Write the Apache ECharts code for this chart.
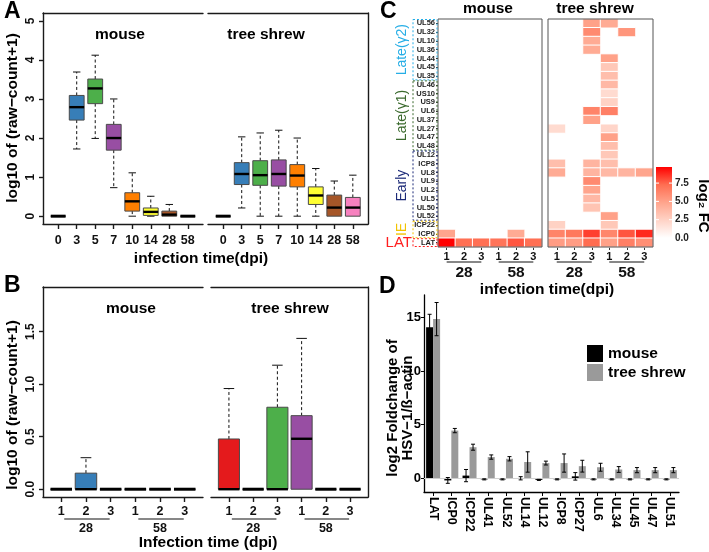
<!DOCTYPE html>
<html><head><meta charset="utf-8">
<script src="https://cdn.jsdelivr.net/npm/echarts@6/dist/echarts.min.js"></script>
<style>html,body{margin:0;padding:0;background:#fff}#c{width:709px;height:552px}</style>
</head><body><div id="c"></div>
<script>
// ---------------- DATA ----------------
// Panel A: five-number summaries [low whisker, Q1, median, Q3, high whisker]
const dpiA = ['0','3','5','7','10','14','28','58'];
const mouseA = [
  [0,0,0,0,0],
  [1.72,2.46,2.79,3.09,3.69],
  [1.99,2.88,3.27,3.51,4.12],
  [0.73,1.69,2.00,2.35,3.00],
  [0,0.13,0.38,0.60,1.11],
  [0,0.02,0.11,0.21,0.51],
  [0,0,0.04,0.13,0.30],
  [0,0,0,0,0]
];
const shrewA = [
  [0,0,0,0,0],
  [0.21,0.81,1.08,1.37,2.03],
  [0,0.79,1.05,1.42,2.13],
  [0,0.77,1.08,1.44,2.20],
  [0,0.75,1.04,1.32,2.00],
  [0,0.30,0.53,0.75,1.22],
  [0,0,0.22,0.54,0.90],
  [0,0,0.22,0.48,1.05]
];
// Panel B
const repB = ['1','2','3','1','2','3'];
const groupsB = ['28','58'];
const mouseB = [
  [0,0,0,0,0],
  [0,0,0,0.153,0.30],
  [0,0,0,0,0],
  [0,0,0,0,0],
  [0,0,0,0,0],
  [0,0,0,0,0]
];
const shrewB = [
  [0,0,0,0.478,0.958],
  [0,0,0,0,0],
  [0,0,0,0.78,1.18],
  [0,0,0.48,0.70,1.435],
  [0,0,0,0,0],
  [0,0,0,0,0]
];
// Panel C (rows top -> bottom; columns 28-1,28-2,28-3,58-1,58-2,58-3), log2 FC
const genesC = ['UL56','UL32','UL10','UL36','UL44','UL45','UL35','UL46','US10','US9','UL6','UL37','UL27','UL47','UL48','UL12','ICP8','UL8','UL9','UL2','UL5','UL50','UL52','ICP22','ICP0','LAT'];
const colsC = ['28-1','28-2','28-3','58-1','58-2','58-3'];
const groupsC = ['28','58'];
const mouseC = [
  [0,0,0,0,0,0],[0,0,0,0,0,0],[0,0,0,0,0,0],[0,0,0,0,0,0],[0,0,0,0,0,0],
  [0,0,0,0,0,0],[0,0,0,0,0,0],[0,0,0,0,0,0],[0,0,0,0,0,0],[0,0,0,0,0,0],
  [0,0,0,0,0,0],[0,0,0,0,0,0],[0,0,0,0,0,0],[0,0,0,0,0,0],[0,0,0,0,0,0],
  [0,0,0,0,0,0],[0,0,0,0,0,0],[0,0,0,0,0,0],[0,0,0,0,0,0],[0,0,0,0,0,0],
  [0,0,0,0,0,0],[0,0,0,0,0,0],[0,0,0,0,0,0],[0,0,0,0,0,0],
  [4.8,0,0,0,4.5,0],
  [9.7,7.2,7.2,7.0,7.8,7.2]
];
const shrewC = [
  [0,0,5.0,4.5,0,0],
  [0,0,6.0,0,5.5,0],
  [0,0,4.5,0,0,0],
  [0,0,4.5,0,0,0],
  [0,0,0,5.0,0,0],
  [0,0,0,3.0,0,0],
  [0,0,0,3.5,0,0],
  [0,0,0,3.8,0,0],
  [0,0,0,2.0,0,0],
  [0,0,0,2.5,0,0],
  [0,0,6.3,6.5,0,0],
  [0,0,5.0,0,0,0],
  [2.0,0,0,2.3,0,0],
  [0,0,0,5.0,0,0],
  [0,0,0,3.5,0,0],
  [0,0,0,3.0,0,0],
  [3.5,0,4.0,3.5,0,0],
  [4.5,0,4.0,3.8,4.0,4.8],
  [0,0,6.0,0,0,0],
  [0,0,4.8,0,0,0],
  [0,0,3.8,0,0,0],
  [0,0,3.2,0,0,0],
  [0,0,0,5.0,0,0],
  [2.5,0,0,3.0,0,0],
  [6.3,6.8,8.3,6.2,7.8,8.8],
  [5.2,5.2,7.3,5.0,6.5,5.8]
];
const geneGroupNames = ['Late(γ2)','Late(γ1)','Early','IE','LAT'];
const geneGroupFrom = [0,7,15,23,25];
const geneGroupTo   = [6,14,22,24,25];
const fcTicks = [0,2.5,5,7.5];
const fcMax = 9.7;
// Panel D
const genesD = ['LAT','ICP0','ICP22','UL41','UL52','UL14','UL12','ICP8','ICP27','UL6','UL34','UL45','UL47','UL51'];
const mouseD = [14.1,-0.2,0.25,-0.1,-0.1,0.0,-0.15,-0.1,0.18,-0.1,-0.1,-0.1,-0.1,-0.1];
const mouseErr = [1.2,0.27,0.57,0.05,0.05,0.15,0.05,0.05,0.35,0.05,0.05,0.05,0.05,0.05];
const shrewD = [14.85,4.45,2.9,1.98,1.82,1.52,1.42,1.42,1.13,1.03,0.82,0.76,0.76,0.76];
const shrewErr = [1.55,0.2,0.28,0.2,0.2,0.95,0.18,0.85,0.55,0.37,0.27,0.24,0.24,0.24];

// ---------------- STYLE ----------------
const FONT = '"Liberation Sans", Arial, Helvetica, sans-serif';
const set1 = ['#E41A1C','#377EB8','#4DAF4A','#984EA3','#FF7F00','#FFFF33','#A65628','#F781BF'];
const groupColors = ['#26AEE6','#3B6A2E','#1C2A78','#F2C300','#FF1E1E'];
const heatStops = ['#FFFFFF','#FFD3C6','#FFA48C','#FF6E52','#FF0000'];
const INK = '#1a1a1a';

const axLine = {show:true, onZero:false, lineStyle:{color:INK, width:1.4}};
const noAx = {show:false};
const txt = (size, extra) => Object.assign({fontFamily:FONT, fontWeight:'bold', fontSize:size, color:'#111'}, extra||{});

function boxRender(stats, colors, boxW) {
  return function (params, api) {
    const i = params.dataIndex;
    const x = api.value(0);
    const s = stats[i];
    const cx = api.coord([x, 0])[0];
    const hw = api.size([boxW, 0])[0] / 2;
    const Y = v => api.coord([x, v])[1];
    const yLo = Y(s[0]), yQ1 = Y(s[1]), yMed = Y(s[2]), yQ3 = Y(s[3]), yHi = Y(s[4]);
    const dash = {stroke:'#111', lineWidth:1, lineDash:[3,2.5]};
    const solid = {stroke:'#111', lineWidth:1};
    const ch = [];
    if (s[4] > s[3]) {
      ch.push({type:'line', shape:{x1:cx,y1:yQ3,x2:cx,y2:yHi}, style:dash});
      ch.push({type:'line', shape:{x1:cx-hw/2,y1:yHi,x2:cx+hw/2,y2:yHi}, style:solid});
    }
    if (s[0] < s[1]) {
      ch.push({type:'line', shape:{x1:cx,y1:yQ1,x2:cx,y2:yLo}, style:dash});
      ch.push({type:'line', shape:{x1:cx-hw/2,y1:yLo,x2:cx+hw/2,y2:yLo}, style:solid});
    }
    ch.push({type:'rect', shape:{x:cx-hw, y:yQ3, width:2*hw, height:yQ1-yQ3},
             style:{fill:colors[i], stroke:'#4a4a4a', lineWidth:1}});
    const flat = s[3] === s[1];
    ch.push({type:'line', shape:{x1:cx-hw,y1:yMed,x2:cx+hw,y2:yMed},
             style:{stroke:'#000', lineWidth: flat ? 3 : 2.4}});
    return {type:'group', children:ch};
  };
}

function groupUnderline(names, yMin, x0, x1, dy, dyText, size) {
  return function (params, api) {
    const i = params.dataIndex;
    const a = 3*i + 1, b = 3*i + 3;
    const xa = api.coord([a + x0, yMin])[0], xb = api.coord([b + x1, yMin])[0];
    const yb = api.coord([a, yMin])[1];
    return {type:'group', children:[
      {type:'line', shape:{x1:xa,y1:yb+dy,x2:xb,y2:yb+dy}, style:{stroke:'#111', lineWidth:1.2}},
      {type:'text', x:(api.coord([a+1, yMin])[0]), y:yb+dyText,
       style:{text:names[i], align:'center', verticalAlign:'middle', fontFamily:FONT, fontWeight:'bold', fontSize:size, fill:'#111'}}
    ]};
  };
}

function catUnderline(names, dy, dyText, size) {
  return function (params, api) {
    const i = params.dataIndex;
    const a = 3*i, b = 3*i + 2;
    const by = api.size([1,1])[1];
    const xa = api.coord([a, 0])[0], xb = api.coord([b, 0])[0], xm = api.coord([a+1, 0])[0];
    const yb = api.coord([a, 0])[1] + by/2;
    return {type:'group', children:[
      {type:'line', shape:{x1:xa,y1:yb+dy,x2:xb,y2:yb+dy}, style:{stroke:'#111', lineWidth:1.2}},
      {type:'text', x:xm, y:yb+dyText,
       style:{text:names[i], align:'center', verticalAlign:'middle', fontFamily:FONT, fontWeight:'bold', fontSize:size, fill:'#111'}}
    ]};
  };
}

function frameRender(params, api) {
  const b = api.size([1,1]);
  const left = api.coord([0,0])[0] - b[0]/2;
  const right = api.coord([colsC.length-1,0])[0] + b[0]/2;
  const bottom = api.coord([0,0])[1] + b[1]/2;
  const top = api.coord([0,genesC.length-1])[1] - b[1]/2;
  return {type:'rect', shape:{x:left, y:top, width:right-left, height:bottom-top},
          style:{fill:'none', stroke:'#555', lineWidth:1}};
}

function geneGroupRender(params, api) {
  const i = params.dataIndex;
  const n = genesC.length - 1;
  const b = api.size([1,1]);
  const left = api.coord([0,0])[0] - b[0]/2;
  const yTop = api.coord([0, n - geneGroupFrom[i]])[1] - b[1]/2;
  const yBot = api.coord([0, n - geneGroupTo[i]])[1] + b[1]/2;
  const mid = (yTop + yBot)/2;
  const col = groupColors[i];
  const ch = [{type:'rect', shape:{x:left-25, y:yTop+0.5, width:24, height:yBot-yTop-1},
               style:{fill:'none', stroke:col, lineWidth:1, lineDash:[2,2]}}];
  if (geneGroupNames[i] === 'LAT') {
    ch.push({type:'text', x:left-26, y:mid, style:{text:geneGroupNames[i], align:'right', verticalAlign:'middle',
      fontFamily:FONT, fontSize:15, fill:col}});
  } else {
    ch.push({type:'text', x:left-36, y:mid, rotation:Math.PI/2, style:{text:geneGroupNames[i], align:'center', verticalAlign:'middle',
      fontFamily:FONT, fontSize:14, fill:col}});
  }
  return {type:'group', children:ch};
}

function colorbarRender(params, api) {
  const p0 = api.coord([0, 0]), p1 = api.coord([1, fcMax]);
  const stops = heatStops.map((c, k) => ({offset:k/(heatStops.length-1), color:c}));
  const ch = [{type:'rect', shape:{x:p0[0], y:p1[1], width:p1[0]-p0[0], height:p0[1]-p1[1]},
    style:{fill:new echarts.graphic.LinearGradient(0,1,0,0,stops)}}];
  fcTicks.forEach(t => {
    const y = api.coord([0, t])[1];
    ch.push({type:'line', shape:{x1:p0[0],y1:y,x2:p0[0]+3,y2:y}, style:{stroke:'#fff', lineWidth:1}});
    ch.push({type:'line', shape:{x1:p1[0]-3,y1:y,x2:p1[0],y2:y}, style:{stroke:'#fff', lineWidth:1}});
  });
  return {type:'group', children:ch};
}

function errRender(vals, errs, side, barW) {
  return function (params, api) {
    const i = params.dataIndex;
    const m = vals[i], e = errs[i];
    const x = api.coord([i, m])[0] + side*barW/2;
    const yT = api.coord([i, m+e])[1], yB = api.coord([i, m-e])[1];
    const st = {stroke:'#000', lineWidth:1};
    return {type:'group', children:[
      {type:'line', shape:{x1:x,y1:yT,x2:x,y2:yB}, style:st},
      {type:'line', shape:{x1:x-2,y1:yT,x2:x+2,y2:yT}, style:st},
      {type:'line', shape:{x1:x-2,y1:yB,x2:x+2,y2:yB}, style:st}
    ]};
  };
}

const heatData = m => {
  const out = [];
  const n = genesC.length - 1;
  m.forEach((row, r) => row.forEach((v, c) => { if (v > 0) out.push([c, n - r, v]); }));
  return out;
};

const ticks8 = [1,2,3,4,5,6,7,8];
const ticks6 = [1,2,3,4,5,6];

function boxXAxis(grid, n, labels, size, margin) {
  const vals = n === 8 ? ticks8 : ticks6;
  const pad = n * 0.04 + 0.5;
  return [
    {gridIndex:grid, type:'value', position:'bottom', min:+(1-pad).toFixed(2), max:+(n+pad).toFixed(2),
     axisLine:axLine, splitLine:noAx,
     axisTick:{show:true, customValues:vals, length:5, lineStyle:{color:INK, width:1.4}},
     axisLabel:Object.assign(txt(size), {show:true, customValues:vals, margin:margin, formatter:v => labels[Math.round(v)-1]})},
    {gridIndex:grid, type:'value', position:'top', min:+(1-pad).toFixed(2), max:+(n+pad).toFixed(2),
     axisLine:axLine, splitLine:noAx, axisTick:noAx, axisLabel:noAx}
  ];
}

const gridOpts = {containLabel:false, outerBoundsMode:'none'};
const G = (l, t, w, h, extra) => Object.assign({left:l, top:t, width:w, height:h}, gridOpts, extra||{});

const option = {
  animation:false,
  backgroundColor:'#fff',
  grid:[
    G(43,13,160,211),        // 0 A mouse
    G(208,13,160,211),       // 1 A tree shrew
    G(43,287,160,210),       // 2 B mouse
    G(211,287,157,210),      // 3 B tree shrew
    G(438,19,104,228),       // 4 C mouse
    G(548,19,105,228),       // 5 C tree shrew
    G(656,167,16,71),        // 6 colorbar
    G(424,295,255,197)       // 7 D
  ],
  xAxis:[
    ...boxXAxis(0, 8, dpiA, 12.5, 10),   // 0,1
    ...boxXAxis(1, 8, dpiA, 12.5, 10),   // 2,3
    ...boxXAxis(2, 6, repB, 12.5, 8),    // 4,5
    ...boxXAxis(3, 6, repB, 12.5, 8),    // 6,7
    {gridIndex:4, type:'category', data:colsC, axisLine:noAx, splitLine:noAx,
     axisTick:{show:true, alignWithLabel:true, length:3, lineStyle:{color:'#333'}},
     axisLabel:Object.assign(txt(11), {interval:0, margin:4, formatter:v => v.split('-')[1]})},   // 8
    {gridIndex:5, type:'category', data:colsC, axisLine:noAx, splitLine:noAx,
     axisTick:{show:true, alignWithLabel:true, length:3, lineStyle:{color:'#333'}},
     axisLabel:Object.assign(txt(11), {interval:0, margin:4, formatter:v => v.split('-')[1]})},   // 9
    {gridIndex:6, type:'value', min:0, max:1, show:false},                                        // 10
    {gridIndex:7, type:'category', data:genesD, axisLine:{show:true, onZero:false, lineStyle:{color:'#000', width:1.3}},
     axisTick:{show:true, alignWithLabel:true, length:4, lineStyle:{color:'#000'}},
     axisLabel:Object.assign(txt(12.5,{color:'#000'}), {interval:0, rotate:-90, margin:5})}       // 11
  ],
  yAxis:[
    {gridIndex:0, type:'value', min:-0.2, max:5.2, axisLine:axLine, splitLine:noAx,
     axisTick:{show:true, customValues:[0,1,2,3,4,5], length:4, lineStyle:{color:INK, width:1.4}},
     axisLabel:Object.assign(txt(12), {customValues:[0,1,2,3,4,5], rotate:90, margin:6})},       // 0
    {gridIndex:1, type:'value', position:'right', min:-0.2, max:5.2, axisLine:axLine, splitLine:noAx,
     axisTick:noAx, axisLabel:noAx},                                                              // 1
    {gridIndex:2, type:'value', min:-0.074, max:1.924, axisLine:axLine, splitLine:noAx,
     axisTick:{show:true, customValues:[0,0.5,1,1.5], length:4, lineStyle:{color:INK, width:1.4}},
     axisLabel:Object.assign(txt(12), {customValues:[0,0.5,1,1.5], rotate:90, margin:6, formatter:v => v.toFixed(1)})}, // 2
    {gridIndex:3, type:'value', position:'right', min:-0.074, max:1.924, axisLine:axLine, splitLine:noAx,
     axisTick:noAx, axisLabel:noAx},                                                              // 3
    {gridIndex:4, type:'category', data:genesC.slice().reverse(), axisLine:noAx, splitLine:noAx,
     axisTick:{show:true, alignWithLabel:true, length:2, lineStyle:{color:'#333'}},
     axisLabel:Object.assign(txt(7.5,{color:'#222'}), {interval:0, margin:3})},                   // 4
    {gridIndex:5, type:'category', data:genesC.slice().reverse(), axisLine:noAx, splitLine:noAx,
     axisTick:noAx, axisLabel:noAx},                                                              // 5
    {gridIndex:6, type:'value', position:'right', min:0, max:fcMax, axisLine:noAx, splitLine:noAx, axisTick:noAx,
     axisLabel:Object.assign(txt(10,{color:'#222'}), {customValues:fcTicks, margin:3, formatter:v => v.toFixed(1)})}, // 6
    {gridIndex:7, type:'value', min:-1.28, max:17.1, axisLine:{show:true, onZero:false, lineStyle:{color:'#000', width:1.3}},
     splitLine:noAx,
     axisTick:{show:true, customValues:[0,5,10,15], length:3, lineStyle:{color:'#000'}},
     axisLabel:Object.assign(txt(13,{color:'#000'}), {customValues:[0,5,10,15], margin:3})}       // 7
  ],
  visualMap:{type:'continuous', show:false, min:0, max:fcMax, seriesIndex:[8,9], dimension:2,
             inRange:{color:heatStops}},
  legend:{data:['mouse','tree shrew'], orient:'vertical', left:582, top:340, itemWidth:16, itemHeight:17, itemGap:2,
          icon:'rect', textStyle:txt(15.5,{color:'#000'}), selectedMode:false},
  series:[
    // 0-3 boxplots
    {type:'custom', xAxisIndex:0, yAxisIndex:0, data:mouseA.map((s,i)=>[i+1,s[2]]), renderItem:boxRender(mouseA, set1, 0.8), z:3},
    {type:'custom', xAxisIndex:2, yAxisIndex:1, data:shrewA.map((s,i)=>[i+1,s[2]]), renderItem:boxRender(shrewA, set1, 0.8), z:3},
    {type:'custom', xAxisIndex:4, yAxisIndex:2, data:mouseB.map((s,i)=>[i+1,s[2]]), renderItem:boxRender(mouseB, set1, 0.87), z:3},
    {type:'custom', xAxisIndex:6, yAxisIndex:3, data:shrewB.map((s,i)=>[i+1,s[2]]), renderItem:boxRender(shrewB, set1, 0.87), z:3},
    // 4-5 B group underline labels
    {type:'custom', xAxisIndex:4, yAxisIndex:2, data:groupsB.map((g,i)=>[3*i+2,0]), renderItem:groupUnderline(groupsB, -0.074, 0.12, -0.04, 22, 32, 12.5), clip:false},
    {type:'custom', xAxisIndex:6, yAxisIndex:3, data:groupsB.map((g,i)=>[3*i+2,0]), renderItem:groupUnderline(groupsB, -0.074, 0.12, -0.04, 22, 32, 12.5), clip:false},
    // 6-7 C group underline labels
    {type:'custom', xAxisIndex:8, yAxisIndex:4, data:groupsC.map((g,i)=>[3*i+1,0]), renderItem:catUnderline(groupsC, 15, 26, 15.5), clip:false},
    {type:'custom', xAxisIndex:9, yAxisIndex:5, data:groupsC.map((g,i)=>[3*i+1,0]), renderItem:catUnderline(groupsC, 15, 26, 15.5), clip:false},
    // 8-9 heatmaps
    {type:'heatmap', xAxisIndex:8, yAxisIndex:4, data:heatData(mouseC), itemStyle:{borderColor:'#fff', borderWidth:1}, emphasis:{disabled:true}},
    {type:'heatmap', xAxisIndex:9, yAxisIndex:5, data:heatData(shrewC), itemStyle:{borderColor:'#fff', borderWidth:1}, emphasis:{disabled:true}},
    // 10-11 frames
    {type:'custom', xAxisIndex:8, yAxisIndex:4, data:[[0,0]], renderItem:frameRender, z:6, clip:false},
    {type:'custom', xAxisIndex:9, yAxisIndex:5, data:[[0,0]], renderItem:frameRender, z:6, clip:false},
    // 12 gene groups
    {type:'custom', xAxisIndex:8, yAxisIndex:4, data:geneGroupNames.map((g,i)=>[0,geneGroupFrom[i]]), renderItem:geneGroupRender, clip:false, z:6},
    // 13 colorbar
    {type:'custom', xAxisIndex:10, yAxisIndex:6, data:[[0,0]], renderItem:colorbarRender, clip:false},
    // 14-15 D bars
    {name:'mouse', type:'bar', xAxisIndex:11, yAxisIndex:7, data:mouseD, barWidth:7, barGap:'0%', itemStyle:{color:'#000'},
     markLine:{silent:true, symbol:'none', label:{show:false}, lineStyle:{color:'#d0d0d0', width:1, type:'solid'}, data:[{yAxis:0}]}},
    {name:'tree shrew', type:'bar', xAxisIndex:11, yAxisIndex:7, data:shrewD, barWidth:7, barGap:'0%', itemStyle:{color:'#9a9a9a'}},
    // 16-17 error bars
    {type:'custom', xAxisIndex:11, yAxisIndex:7, data:mouseD.map((v,i)=>[i,v]), renderItem:errRender(mouseD, mouseErr, -1, 7), z:5, clip:false},
    {type:'custom', xAxisIndex:11, yAxisIndex:7, data:shrewD.map((v,i)=>[i,v]), renderItem:errRender(shrewD, shrewErr, 1, 7), z:5, clip:false}
  ],
  graphic:[
    {type:'text', left:4, top:0, style:{text:'A', font:'bold 23px '+FONT, fill:'#000'}},
    {type:'text', left:4, top:274, style:{text:'B', font:'bold 23px '+FONT, fill:'#000'}},
    {type:'text', left:380, top:0, style:{text:'C', font:'bold 23px '+FONT, fill:'#000'}},
    {type:'text', left:379, top:275, style:{text:'D', font:'bold 23px '+FONT, fill:'#000'}},
    {type:'text', x:120, y:35, style:{text:'mouse', align:'center', verticalAlign:'middle', font:'bold 15.5px '+FONT, fill:'#000'}},
    {type:'text', x:266, y:35, style:{text:'tree shrew', align:'center', verticalAlign:'middle', font:'bold 15.5px '+FONT, fill:'#000'}},
    {type:'text', x:131, y:309, style:{text:'mouse', align:'center', verticalAlign:'middle', font:'bold 15.5px '+FONT, fill:'#000'}},
    {type:'text', x:290, y:309, style:{text:'tree shrew', align:'center', verticalAlign:'middle', font:'bold 15.5px '+FONT, fill:'#000'}},
    {type:'text', x:201, y:259, style:{text:'infection time(dpi)', align:'center', verticalAlign:'middle', font:'bold 15.5px '+FONT, fill:'#000'}},
    {type:'text', x:208, y:543, style:{text:'Infection time (dpi)', align:'center', verticalAlign:'middle', font:'bold 15.5px '+FONT, fill:'#000'}},
    {type:'text', x:13, y:118, rotation:Math.PI/2, style:{text:'log10 of (raw\u2212count+1)', align:'center', verticalAlign:'middle', font:'bold 15.5px '+FONT, fill:'#000'}},
    {type:'text', x:13, y:405, rotation:Math.PI/2, style:{text:'log10 of (raw\u2212count+1)', align:'center', verticalAlign:'middle', font:'bold 15.5px '+FONT, fill:'#000'}},
    {type:'text', x:488, y:9, style:{text:'mouse', align:'center', verticalAlign:'middle', font:'bold 15.5px '+FONT, fill:'#000'}},
    {type:'text', x:595, y:9, style:{text:'tree shrew', align:'center', verticalAlign:'middle', font:'bold 15.5px '+FONT, fill:'#000'}},
    {type:'text', x:547, y:290, style:{text:'infection time(dpi)', align:'center', verticalAlign:'middle', font:'bold 15.5px '+FONT, fill:'#000'}},
    {type:'text', x:703, y:206, rotation:-Math.PI/2, style:{text:'log\u2082 FC', align:'center', verticalAlign:'middle', font:'bold 15px '+FONT, fill:'#000'}},
    {type:'text', x:400, y:408, rotation:Math.PI/2, style:{text:'log2 Foldchange of\nHSV\u22121/\u00df\u2212actin', align:'center', verticalAlign:'middle', lineHeight:15, font:'bold 15px '+FONT, fill:'#000'}}
  ]
};

const chart = echarts.init(document.getElementById('c'), null, {renderer:'canvas', width:709, height:552});
chart.setOption(option);
</script>
</body></html>
